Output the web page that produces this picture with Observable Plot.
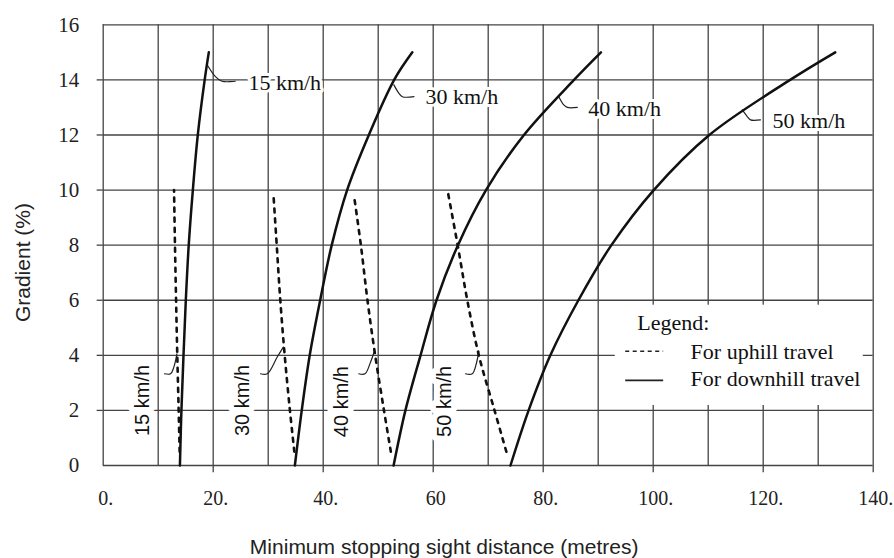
<!DOCTYPE html>
<html><head><meta charset="utf-8">
<script src="https://cdn.jsdelivr.net/npm/d3@7"></script>
<script src="https://cdn.jsdelivr.net/npm/@observablehq/plot@0.6"></script>
<style>html,body{margin:0;padding:0;background:#fff;} svg{display:block}</style>
</head><body><div id="chart"></div>
<script>
const SERIF = "'Liberation Serif','Times New Roman',serif";
const SANS = "'Liberation Sans',Arial,sans-serif";

// ---- axes / ticks ----
const xTicks = [0, 20, 40, 60, 80, 100, 120, 140];
const xTickLabels = ["0.", "20.", "40.", "60", "80.", "100.", "120.", "140."];
const yTicks = [0, 2, 4, 6, 8, 10, 12, 14, 16];
const yTickLabels = ["0", "2", "4", "6", "8", "10", "12", "14", "16"];
const xGrid = [0, 10, 20, 30, 40, 50, 60, 70, 80, 90, 100, 110, 120, 130, 140];
const yGrid = [0, 2, 4, 6, 8, 10, 12, 14, 16];
const xOuterTicks = [20, 40, 60, 80, 100, 120, 140];
const yOuterTicks = [2, 4, 6, 8, 10, 12, 14];
const xTitle = "Minimum stopping sight distance (metres)";
const yTitle = "Gradient (%)";

// ---- series: downhill (solid) — distance (m) at each gradient (%) ----
const speeds = ["15 km/h", "30 km/h", "40 km/h", "50 km/h"];
const downhillGradient = [0, 2, 4, 6, 8, 10, 12, 14, 15];
const downhill15 = [13.95, 14.22, 14.6, 15.02, 15.55, 16.3, 17.2, 18.45, 19.2];
const downhill30 = [34.85, 36.1, 37.55, 39.45, 41.55, 44.35, 48.3, 52.9, 56.2];
const downhill40 = [52.8, 54.95, 57.7, 60.6, 64.5, 69.6, 76.5, 85.6, 90.5];
const downhill50 = [74.05, 77.35, 81.3, 86.4, 92.4, 100.1, 110.2, 124.9, 133.1];

// ---- series: uphill (dashed) — [distance (m), gradient (%)] ----
const uphill15 = [[13.9, 0.5], [13.72, 2], [13.47, 4], [13.25, 6], [13.05, 8], [12.88, 10]];
const uphill30 = [[34.75, 0.5], [33.95, 2], [33.0, 4], [32.2, 6], [31.55, 8], [30.95, 9.85]];
const uphill40 = [[52.3, 0.5], [51.05, 2], [49.45, 4], [48.05, 6], [46.85, 8], [45.6, 9.8]];
const uphill50 = [[73.3, 0.5], [71.15, 2], [68.3, 4], [66.2, 6], [64.45, 8], [62.6, 10]];

// ---- annotations ----
const topLabelX = [26.4, 58.6, 88.2, 121.7];
const topLabelY = [13.9, 13.38, 12.93, 12.51];
const sideLabelX = [7.09, 25.42, 43.3, 62.05];
const sideLabelY = [2.36, 2.36, 2.32, 2.33];
const topLeaders = [
  [[18.9, 14.55], [20.4, 14.12], [21.6, 13.95], [24.0, 13.95]],
  [[52.85, 13.82], [53.75, 13.52], [54.4, 13.39], [56.5, 13.39]],
  [[82.84, 13.39], [83.75, 13.09], [84.4, 13.0], [86.2, 13.0]],
  [[116.2, 12.91], [117.1, 12.67], [117.7, 12.55], [119.5, 12.55]]
];
const sideLeaders = [
  [[11.15, 3.33], [12.24, 3.33], [12.84, 3.57], [13.4, 4.05]],
  [[28.62, 3.33], [29.82, 3.33], [31.64, 3.94], [32.75, 4.3]],
  [[46.47, 3.33], [47.6, 3.33], [48.6, 3.75], [49.3, 4.15]],
  [[65.87, 3.33], [67.1, 3.33], [67.9, 3.75], [68.3, 4.15]]
];
const legendTitle = "Legend:";
const legendItems = ["For uphill travel", "For downhill travel"];
const legendBox = {x1: 93.1, x2: 138.2, y1: 2.18, y2: 5.82};

// ---- build tables ----
const downRows = [];
[downhill15, downhill30, downhill40, downhill50].forEach((xs, s) =>
  xs.forEach((x, i) => downRows.push({speed: speeds[s], x, y: downhillGradient[i]})));
const upRows = [];
[uphill15, uphill30, uphill40, uphill50].forEach((pts, s) =>
  pts.forEach(([x, y]) => upRows.push({speed: speeds[s], x, y})));
const topLabels = speeds.map((t, i) => ({text: t, x: topLabelX[i], y: topLabelY[i]}));
const sideLabels = speeds.map((t, i) => ({text: t, x: sideLabelX[i], y: sideLabelY[i]}));
const leaderRows = [];
[...topLeaders, ...sideLeaders].forEach((pts, k) =>
  pts.forEach(([x, y]) => leaderRows.push({id: k, x, y})));
const xLabelMap = new Map(xTicks.map((t, i) => [t, xTickLabels[i]]));
const yLabelMap = new Map(yTicks.map((t, i) => [t, yTickLabels[i]]));

const legendRows = [
  {text: legendTitle, x: 97.1, y: 5.16},
  {text: legendItems[0], x: 106.8, y: 4.11},
  {text: legendItems[1], x: 106.8, y: 3.14}
];

const chart = Plot.plot({
  width: 894,
  height: 558,
  marginLeft: 102.7,
  marginRight: 21.3,
  marginTop: 24.3,
  marginBottom: 93,
  x: {domain: [0, 140]},
  y: {domain: [0, 16]},
  style: {background: "white", overflow: "visible"},
  marks: [
    Plot.ruleX(xGrid, {x: d => d, y1: 0, y2: 16, stroke: "#444", strokeWidth: 1.3}),
    Plot.ruleY(yGrid, {y: d => d, x1: 0, x2: 140, stroke: "#444", strokeWidth: 1.3}),
    Plot.ruleX(xOuterTicks, {x: d => d, y1: 0, y2: -0.26, stroke: "#444", strokeWidth: 1.3}),
    Plot.ruleY(yOuterTicks, {y: d => d, x1: -1.1, x2: 0, stroke: "#444", strokeWidth: 1.3}),
    Plot.rect([legendBox], {x1: "x1", x2: "x2", y1: "y1", y2: "y2", fill: "white"}),
    Plot.text(topLabels, {x: "x", y: "y", text: "text", textAnchor: "start", fontFamily: SERIF, fontSize: 22,
      fill: "#111", stroke: "white", strokeWidth: 6, paintOrder: "stroke"}),
    Plot.text(sideLabels, {x: "x", y: "y", text: "text", rotate: -90, fontFamily: SANS, fontSize: 20,
      fill: "#111", stroke: "white", strokeWidth: 12, paintOrder: "stroke"}),
    Plot.line(leaderRows, {x: "x", y: "y", z: "id", curve: "catmull-rom", stroke: "#222", strokeWidth: 1.2}),
    Plot.line(upRows, {x: "x", y: "y", z: "speed", curve: "catmull-rom", stroke: "#111", strokeWidth: 2.6,
      strokeDasharray: "4,6"}),
    Plot.line(downRows, {x: "x", y: "y", z: "speed", curve: "catmull-rom", stroke: "#111", strokeWidth: 2.5}),
    Plot.text(legendRows, {x: "x", y: "y", text: "text", textAnchor: "start", fontFamily: SERIF, fontSize: 22, fill: "#111"}),
    Plot.ruleY([4.15], {y: d => d, x1: 95.0, x2: 101.9, stroke: "#222", strokeWidth: 1.4, strokeDasharray: "4,3.5"}),
    Plot.ruleY([3.09], {y: d => d, x1: 95.0, x2: 101.9, stroke: "#222", strokeWidth: 1.6}),
    Plot.axisX(xTicks, {tickSize: 0, tickPadding: 25, tickFormat: d => xLabelMap.get(d), label: null,
      fontFamily: SERIF, fontSize: 20, dx: 2.5, fill: "#222"}),
    Plot.axisY(yTicks, {tickSize: 0, tickPadding: 24, tickFormat: d => yLabelMap.get(d), label: null,
      fontFamily: SERIF, fontSize: 21, fill: "#222"}),
    Plot.text([xTitle], {frameAnchor: "bottom", text: d => d, textAnchor: "middle", lineAnchor: "middle",
      dx: -44, dy: 82, fontFamily: SANS, fontSize: 21, fill: "#222"}),
    Plot.text([yTitle], {frameAnchor: "left", text: d => d, rotate: -90, textAnchor: "middle", lineAnchor: "middle",
      dx: -79.7, dy: 17.4, fontFamily: SANS, fontSize: 21, fill: "#222"})
  ]
});
document.getElementById("chart").appendChild(chart);
</script>
</body></html>
